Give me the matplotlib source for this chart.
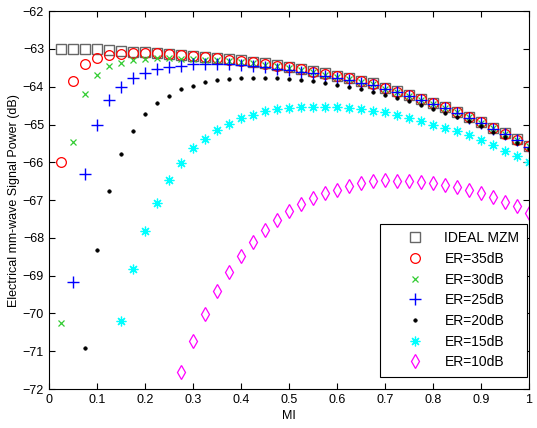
import numpy as np
import matplotlib
matplotlib.use('Agg')
import matplotlib.pyplot as plt

plt.rcParams['font.family'] = ['Liberation Sans', 'DejaVu Sans']

# modulation index grid (0.025 ... 1.0)
mi = np.round(np.arange(1, 41) * 0.025, 3)

ideal = [-63.00, -63.00, -63.00, -63.01, -63.03, -63.05, -63.07, -63.09, -63.11, -63.13,
         -63.16, -63.19, -63.21, -63.24, -63.27, -63.30, -63.34, -63.38, -63.43, -63.48,
         -63.53, -63.59, -63.65, -63.71, -63.77, -63.84, -63.91, -64.03, -64.12, -64.22,
         -64.32, -64.43, -64.54, -64.66, -64.79, -64.93, -65.08, -65.23, -65.39, -65.56]

er35 = [-66.00, -63.85, -63.40, -63.25, -63.17, -63.13, -63.11, -63.11, -63.12, -63.14,
        -63.17, -63.20, -63.22, -63.25, -63.28, -63.31, -63.35, -63.39, -63.44, -63.49,
        -63.54, -63.60, -63.66, -63.72, -63.78, -63.85, -63.92, -64.04, -64.13, -64.23,
        -64.33, -64.44, -64.55, -64.67, -64.80, -64.94, -65.09, -65.24, -65.40, -65.57]

er30 = [-70.25, -65.45, -64.18, -63.68, -63.45, -63.36, -63.30, -63.27, -63.25, -63.25,
        -63.26, -63.27, -63.28, -63.30, -63.32, -63.35, -63.38, -63.42, -63.46, -63.51,
        -63.56, -63.62, -63.68, -63.74, -63.80, -63.87, -63.94, -64.05, -64.14, -64.24,
        -64.34, -64.45, -64.56, -64.68, -64.81, -64.95, -65.10, -65.25, -65.41, -65.58]

er25 = [-69.18, -66.31, -65.02, -64.35, -64.00, -63.78, -63.63, -63.54, -63.48, -63.44,
        -63.41, -63.39, -63.39, -63.40, -63.42, -63.45, -63.48, -63.52, -63.56, -63.60,
        -63.65, -63.71, -63.77, -63.83, -63.89, -63.96, -64.05, -64.14, -64.24, -64.34,
        -64.45, -64.57, -64.69, -64.82, -64.96, -65.11, -65.26, -65.42, -65.59]

er20 = [-70.92, -68.31, -66.75, -65.79, -65.17, -64.73, -64.44, -64.24, -64.07, -63.97,
        -63.88, -63.83, -63.80, -63.77, -63.76, -63.76, -63.77, -63.80, -63.83, -63.86,
        -63.91, -63.95, -64.00, -64.06, -64.13, -64.21, -64.30, -64.39, -64.48, -64.58,
        -64.69, -64.80, -64.92, -65.05, -65.19, -65.34, -65.49, -65.65]

er15 = [-70.20, -68.83, -67.82, -67.07, -66.47, -66.01, -65.63, -65.39, -65.14, -64.99,
        -64.84, -64.75, -64.65, -64.60, -64.57, -64.55, -64.53, -64.53, -64.55, -64.56,
        -64.60, -64.63, -64.68, -64.75, -64.82, -64.90, -65.00, -65.08, -65.16, -65.28,
        -65.41, -65.54, -65.70, -65.84, -66.00]

er10 = [-71.54, -70.73, -70.02, -69.41, -68.91, -68.47, -68.12, -67.79, -67.53, -67.28,
        -67.11, -66.94, -66.80, -66.72, -66.62, -66.56, -66.49, -66.47, -66.49, -66.49,
        -66.53, -66.56, -66.60, -66.66, -66.72, -66.82, -66.93, -67.04, -67.15, -67.34]

series = [
    ('IDEAL MZM', ideal, dict(marker='s', color='#666666', ms=7, mfc='none', mew=1.0)),
    ('ER=35dB', er35, dict(marker='o', color='#ff0000', ms=7, mfc='none', mew=0.9)),
    ('ER=30dB', er30, dict(marker='x', color='#33cc33', ms=4, mew=0.9)),
    ('ER=25dB', er25, dict(marker='+', color='#0000ff', ms=8, mew=1.0)),
    ('ER=20dB', er20, dict(marker='.', color='#000000', ms=5, mew=0.5)),
    ('ER=15dB', er15, dict(marker=(8, 2, 0), color='#00ffff', ms=7, mew=0.9)),
    ('ER=10dB', er10, dict(marker='d', color='#ff00ff', ms=7.5, mfc='none', mew=0.9)),
]

fig = plt.figure(figsize=(5.37, 4.28), dpi=100)
ax = fig.add_axes([0.091, 0.091, 0.894, 0.883])

for label, vals, style in series:
    # each ER curve only has points on-screen from its first MI value onward
    x = mi[len(mi) - len(vals):]
    ax.plot(x, vals, linestyle='none', label=label, **style)

ax.set_xlim(0, 1)
ax.set_ylim(-72, -62)
ax.set_xticks(np.arange(0, 1.01, 0.1))
ax.set_xticklabels(['0', '0.1', '0.2', '0.3', '0.4', '0.5', '0.6', '0.7', '0.8', '0.9', '1'])
ax.set_yticks(np.arange(-72, -61, 1))
ax.tick_params(direction='in', top=True, right=True, labelsize=9, length=4)
ax.set_xlabel('MI', fontsize=9, labelpad=3)
ax.set_ylabel('Electrical mm-wave Signal Power (dB)', fontsize=9, labelpad=2)

leg = ax.legend(loc='lower right', bbox_to_anchor=(0.996, 0.032), fontsize=10,
                fancybox=False, framealpha=1, edgecolor='black', borderaxespad=0,
                borderpad=0.55, labelspacing=0.48, handlelength=4.0, handletextpad=0.1)
leg.get_frame().set_linewidth(0.8)

fig.savefig('out.png', dpi=100)
